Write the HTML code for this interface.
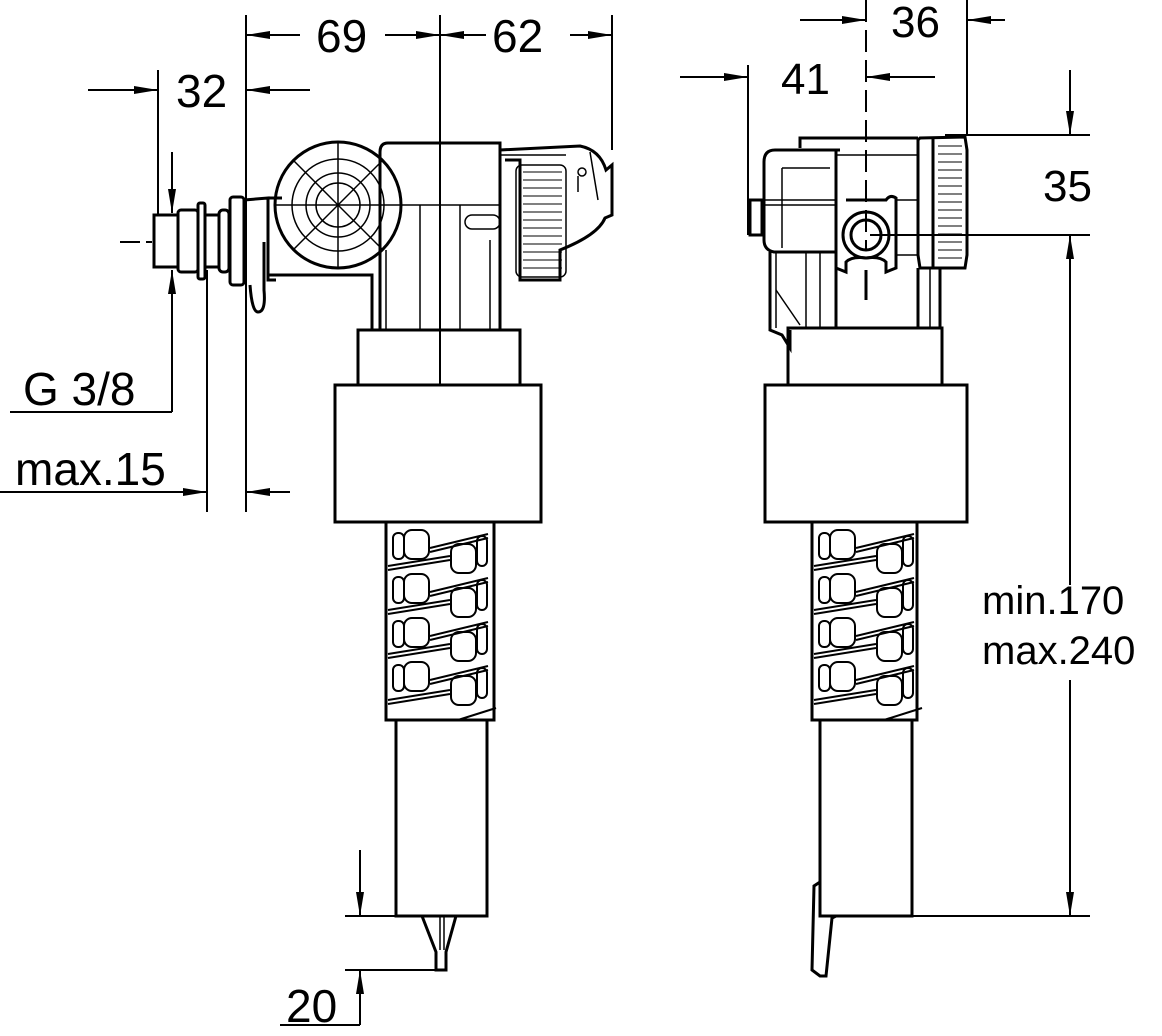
<!DOCTYPE html>
<html><head><meta charset="utf-8"><style>
html,body{margin:0;padding:0;background:#fff;}
svg{display:block;}
text{font-family:"Liberation Sans",Arial,sans-serif;fill:#000;}
</style></head><body>
<svg width="1162" height="1036" viewBox="0 0 1162 1036" xmlns="http://www.w3.org/2000/svg">
<defs>
<marker id="a" viewBox="0 0 24 10" refX="24" refY="5" markerWidth="24" markerHeight="10" markerUnits="userSpaceOnUse" orient="auto">
<path d="M0,1 L24,5 L0,9 Z" fill="#000"/>
</marker>
<g id="mesh">
 <g fill="none" stroke="#000" stroke-width="2">
  <rect x="16" y="6" width="25" height="29" rx="8"/><rect x="5" y="9" width="11" height="26" rx="5"/>
  <rect x="63" y="20" width="25" height="29" rx="8"/><rect x="89" y="12" width="10" height="30" rx="5"/>
  <rect x="16" y="50" width="25" height="29" rx="8"/><rect x="5" y="53" width="11" height="26" rx="5"/>
  <rect x="63" y="64" width="25" height="29" rx="8"/><rect x="89" y="56" width="10" height="30" rx="5"/>
  <rect x="16" y="94" width="25" height="29" rx="8"/><rect x="5" y="97" width="11" height="26" rx="5"/>
  <rect x="63" y="108" width="25" height="29" rx="8"/><rect x="89" y="100" width="10" height="30" rx="5"/>
  <rect x="16" y="138" width="25" height="29" rx="8"/><rect x="5" y="141" width="11" height="26" rx="5"/>
  <rect x="63" y="152" width="25" height="29" rx="8"/><rect x="89" y="144" width="10" height="30" rx="5"/>
  <path d="M42 24 L100 10 M42 28 L100 14"/>
  <path d="M0 42 L62 32 M0 46 L62 36"/>
  <path d="M42 68 L100 54 M42 72 L100 58"/>
  <path d="M0 86 L62 76 M0 90 L62 80"/>
  <path d="M42 112 L100 98 M42 116 L100 102"/>
  <path d="M0 130 L62 120 M0 134 L62 124"/>
  <path d="M42 156 L100 142 M42 160 L100 146"/>
  <path d="M0 176 L62 166 M0 180 L62 170"/>
  <path d="M70 196 L108 184"/>
 </g>
</g>
</defs>

<g stroke="#000" stroke-width="2" fill="none">
<line x1="246" y1="15" x2="246" y2="512"/>
<line x1="440" y1="15" x2="440" y2="385"/>
<line x1="612" y1="15" x2="612" y2="150"/>
<line x1="158" y1="70" x2="158" y2="215"/>
<line x1="207" y1="270" x2="207" y2="512"/>
<line x1="172" y1="270" x2="172" y2="412"/>
<line x1="10" y1="412" x2="172" y2="412"/>
<line x1="0" y1="492" x2="207" y2="492" marker-end="url(#a)"/>
<line x1="290" y1="492" x2="246" y2="492" marker-end="url(#a)"/>
<line x1="300" y1="35" x2="246" y2="35" marker-end="url(#a)"/>
<line x1="385" y1="35" x2="440" y2="35" marker-end="url(#a)"/>
<line x1="486" y1="35" x2="440" y2="35" marker-end="url(#a)"/>
<line x1="570" y1="35" x2="612" y2="35" marker-end="url(#a)"/>
<line x1="88" y1="90" x2="158" y2="90" marker-end="url(#a)"/>
<line x1="310" y1="90" x2="246" y2="90" marker-end="url(#a)"/>
<line x1="172" y1="152" x2="172" y2="213" marker-end="url(#a)"/>
<line x1="172" y1="330" x2="172" y2="270" marker-end="url(#a)"/>
<line x1="120" y1="242" x2="140" y2="242"/><line x1="146" y1="242" x2="152" y2="242"/>
<line x1="345" y1="916" x2="396" y2="916"/>
<line x1="345" y1="970" x2="440" y2="970"/>
<line x1="360" y1="850" x2="360" y2="916" marker-end="url(#a)"/>
<line x1="360" y1="1025" x2="360" y2="970" marker-end="url(#a)"/>
<line x1="280" y1="1025" x2="360" y2="1025"/>

<g stroke-width="3">
<rect x="154" y="215" width="24" height="52"/>
<rect x="178" y="210" width="20" height="62" rx="3"/>
<rect x="198" y="203" width="7" height="76" rx="2"/>
<rect x="205" y="215" width="14" height="52"/>
<rect x="219" y="210" width="10" height="62" rx="4"/>
<rect x="230" y="197" width="14" height="88" rx="3"/>
<path d="M244 200 L268 198 L268 280 L276 280 M250 285 Q252 312 258 312 Q266 312 264 290 L264 242"/>
<path d="M268 198 L282 198 M268 275 L372 275 L372 330"/>
<circle cx="338" cy="205" r="63"/>
<path d="M380 152 Q380 143 388 143 L500 143 L500 330 M380 152 L380 330"/>
<path d="M500 150 L580 146 Q600 150 606 170 L612 165 L612 215 L605 218 Q598 235 560 250 L560 280 L520 280 L520 160 L505 160"/>
</g>
<g stroke-width="1.5">
<circle cx="338" cy="205" r="32"/><circle cx="338" cy="205" r="22"/><circle cx="338" cy="205" r="46"/>
<line x1="338" y1="142" x2="338" y2="268"/><line x1="275" y1="205" x2="400" y2="205"/>
<line x1="294" y1="161" x2="382" y2="249"/><line x1="382" y1="161" x2="294" y2="249"/>
<line x1="400" y1="205" x2="500" y2="205"/>
<line x1="386" y1="250" x2="386" y2="330"/><line x1="420" y1="205" x2="420" y2="330"/>
<line x1="460" y1="205" x2="460" y2="330"/><line x1="490" y1="240" x2="490" y2="330"/>
<rect x="465" y="215" width="35" height="14" rx="7"/>
<rect x="516" y="165" width="50" height="112" rx="6"/>
<line x1="500" y1="155" x2="566" y2="155"/>
<circle cx="582" cy="172" r="4"/><path d="M578 176 L578 192 M590 152 L598 200"/>
</g>
<g stroke-width="1">
<line x1="523" y1="172" x2="562" y2="172"/><line x1="523" y1="180" x2="562" y2="180"/><line x1="523" y1="188" x2="562" y2="188"/><line x1="523" y1="196" x2="562" y2="196"/><line x1="523" y1="204" x2="562" y2="204"/><line x1="523" y1="212" x2="562" y2="212"/><line x1="523" y1="220" x2="562" y2="220"/><line x1="523" y1="228" x2="562" y2="228"/><line x1="523" y1="236" x2="562" y2="236"/><line x1="523" y1="244" x2="562" y2="244"/><line x1="523" y1="252" x2="562" y2="252"/><line x1="523" y1="260" x2="562" y2="260"/><line x1="523" y1="268" x2="562" y2="268"/>
</g>
<g stroke-width="3">
<rect x="358" y="330" width="162" height="55"/>
<rect x="335" y="385" width="206" height="137"/>
<rect x="386" y="522" width="108" height="198"/>
<rect x="396" y="720" width="91" height="196"/>
<path d="M422 916 L436 952 L436 970 L446 970 L446 952 L456 916"/>
</g>
<line x1="440" y1="916" x2="440" y2="950" stroke-width="1.5"/><line x1="444" y1="916" x2="444" y2="950" stroke-width="1.5"/>
<use href="#mesh" x="388" y="524"/>

<line x1="866" y1="0" x2="866" y2="250" stroke-dasharray="22,8" stroke-width="2"/>
<line x1="748" y1="65" x2="748" y2="235"/>
<line x1="967" y1="0" x2="967" y2="135"/>
<line x1="680" y1="77" x2="748" y2="77" marker-end="url(#a)"/>
<line x1="935" y1="77" x2="866" y2="77" marker-end="url(#a)"/>
<line x1="800" y1="20" x2="866" y2="20" marker-end="url(#a)"/>
<line x1="1005" y1="20" x2="967" y2="20" marker-end="url(#a)"/>
<line x1="945" y1="135" x2="1090" y2="135"/>
<line x1="870" y1="235" x2="1090" y2="235"/>
<line x1="910" y1="916" x2="1090" y2="916"/>
<line x1="1070" y1="70" x2="1070" y2="135" marker-end="url(#a)"/>
<line x1="1070" y1="585" x2="1070" y2="235" marker-end="url(#a)"/>
<line x1="1070" y1="680" x2="1070" y2="916" marker-end="url(#a)"/>

<g stroke-width="3">
<path d="M800 148 L800 138 L918 138"/>
<path d="M840 150 L775 150 Q764 150 764 162 L764 240 Q764 250 774 252 L836 252"/>
<rect x="750" y="200" width="12" height="35"/>
<path d="M836 150 L836 198 L836 268 L846 272 L846 262 Q852 256 866 258 Q880 256 886 262 L886 272 L896 268 L896 198 Q890 194 886 200 L846 200"/>
<circle cx="866" cy="235" r="23"/><circle cx="866" cy="235" r="15"/>
<path d="M918 140 L920 138 L965 137 L967 150 L967 255 L965 268 L920 268 L918 255 Z"/>
<line x1="933" y1="138" x2="933" y2="268"/>
<path d="M866 270 L866 300"/>
<path d="M770 252 L770 330 L782 335 L790 348 L790 330 M836 252 L836 328 M918 268 L918 328 M940 268 L940 328"/>
<rect x="788" y="328" width="154" height="57"/>
<rect x="765" y="385" width="202" height="137"/>
<rect x="812" y="522" width="105" height="198"/>
<rect x="820" y="720" width="92" height="196"/>
<path d="M820 882 L814 886 L812 970 L820 976 L826 976 L832 918 L836 916"/>
</g>
<g stroke-width="1.5">
<line x1="782" y1="168" x2="782" y2="248"/><line x1="782" y1="168" x2="830" y2="168"/>
<line x1="764" y1="200" x2="836" y2="200"/><line x1="764" y1="205" x2="836" y2="205"/>
<line x1="836" y1="155" x2="918" y2="155"/>
<line x1="896" y1="200" x2="918" y2="200"/><line x1="896" y1="255" x2="918" y2="255"/>
<line x1="776" y1="252" x2="776" y2="328"/><line x1="806" y1="252" x2="806" y2="328"/><line x1="820" y1="252" x2="820" y2="328"/>
<line x1="930" y1="268" x2="930" y2="328"/>
<line x1="776" y1="290" x2="800" y2="325"/>
</g>
<g stroke-width="1">
<line x1="938" y1="146" x2="962" y2="146"/><line x1="938" y1="154" x2="962" y2="154"/><line x1="938" y1="162" x2="962" y2="162"/><line x1="938" y1="170" x2="962" y2="170"/><line x1="938" y1="178" x2="962" y2="178"/><line x1="938" y1="186" x2="962" y2="186"/><line x1="938" y1="194" x2="962" y2="194"/><line x1="938" y1="202" x2="962" y2="202"/><line x1="938" y1="210" x2="962" y2="210"/><line x1="938" y1="218" x2="962" y2="218"/><line x1="938" y1="226" x2="962" y2="226"/><line x1="938" y1="234" x2="962" y2="234"/><line x1="938" y1="242" x2="962" y2="242"/><line x1="938" y1="250" x2="962" y2="250"/><line x1="938" y1="258" x2="962" y2="258"/>
</g>
<use href="#mesh" x="814" y="524"/>
</g>

<g font-size="46">
<text x="316" y="52">69</text>
<text x="492" y="52">62</text>
<text x="176" y="107">32</text>
<text x="286" y="1022">20</text>
</g>
<g font-size="44">
<text x="781" y="94">41</text>
<text x="891" y="37">36</text>
<text x="1043" y="201">35</text>
</g>
<g font-size="46">
<text x="23" y="405">G 3/8</text>
<text x="15" y="485">max.15</text>
</g>
<g font-size="40">
<text x="982" y="614">min.170</text>
<text x="982" y="664">max.240</text>
</g>
</svg>
</body></html>
